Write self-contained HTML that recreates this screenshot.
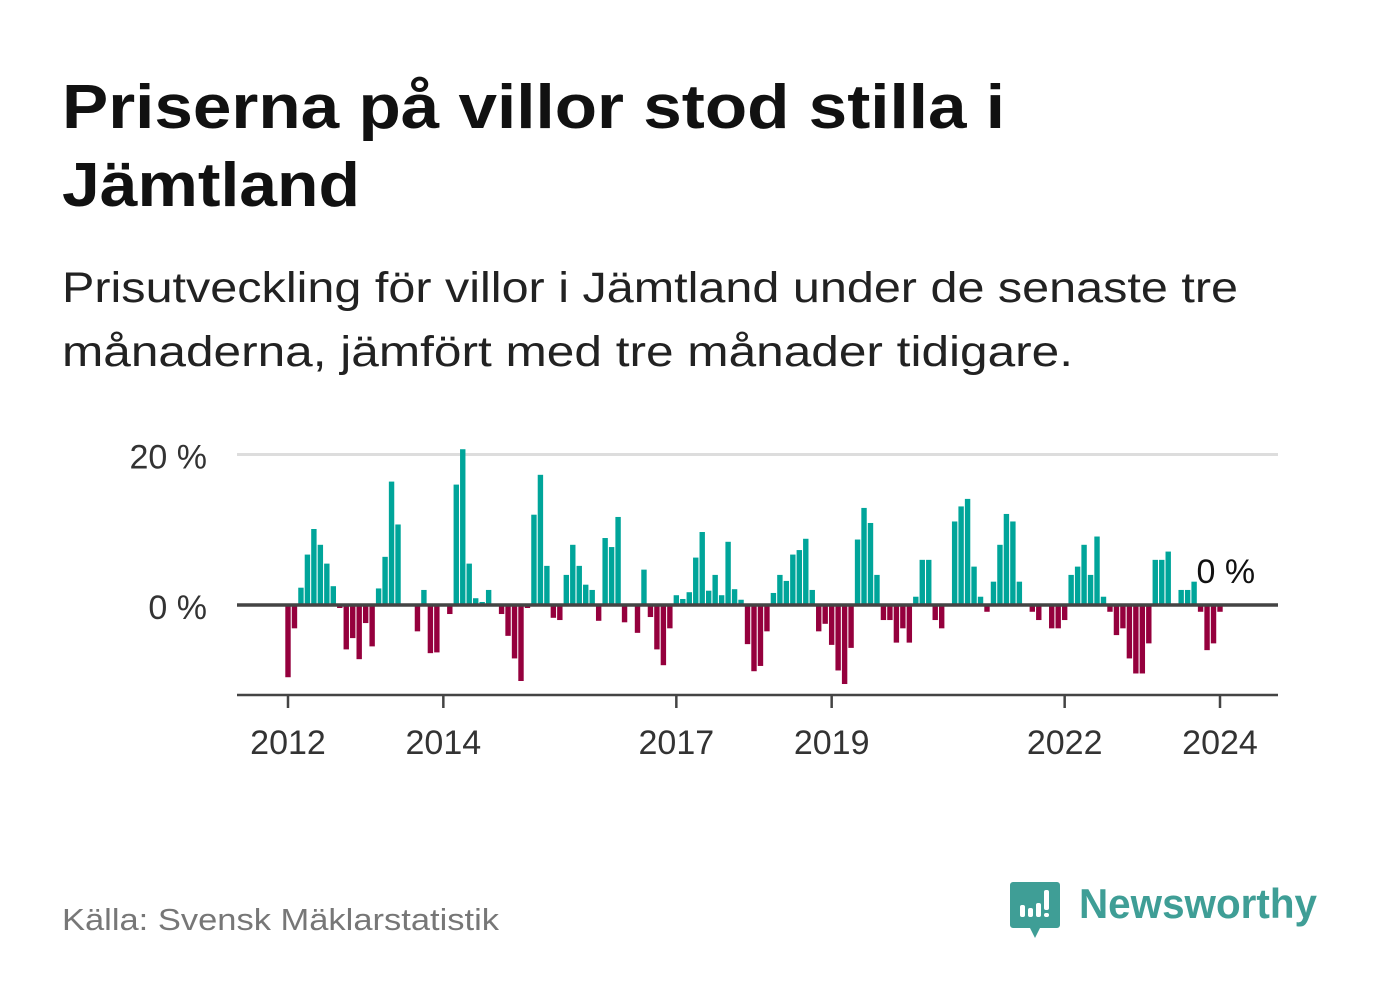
<!DOCTYPE html>
<html><head><meta charset="utf-8"><style>
html,body{margin:0;padding:0;background:#fff;}
svg{display:block;font-family:"Liberation Sans",sans-serif;}
</style></head><body>
<svg id="c" width="1382" height="999" viewBox="0 0 1382 999">
<text x="62" y="128" font-size="62" font-weight="bold" fill="#111" textLength="943" lengthAdjust="spacingAndGlyphs">Priserna på villor stod stilla i</text>
<text x="62" y="206" font-size="62" font-weight="bold" fill="#111" textLength="298" lengthAdjust="spacingAndGlyphs">Jämtland</text>
<text x="62" y="302" font-size="43" fill="#222" textLength="1176" lengthAdjust="spacingAndGlyphs">Prisutveckling för villor i Jämtland under de senaste tre</text>
<text x="62" y="366" font-size="43" fill="#222" textLength="1011" lengthAdjust="spacingAndGlyphs">månaderna, jämfört med tre månader tidigare.</text>
<g id="plot"></g>
<text x="62" y="930" font-size="31" fill="#777" textLength="437" lengthAdjust="spacingAndGlyphs">Källa: Svensk Mäklarstatistik</text>
<g>
<path d="M1013 882 h44 a3 3 0 0 1 3 3 v40 a3 3 0 0 1 -3 3 h-17 l-5 10 l-5 -10 h-17 a3 3 0 0 1 -3 -3 v-40 a3 3 0 0 1 3 -3z" fill="#3f9e96"/>
<rect x="1020" y="905" width="5" height="12" rx="2" fill="#fff"/>
<rect x="1028" y="908" width="5" height="9" rx="2" fill="#fff"/>
<rect x="1036" y="903" width="5" height="14" rx="2" fill="#fff"/>
<rect x="1044" y="890" width="5" height="20" rx="2" fill="#fff"/>
<rect x="1044" y="913" width="5" height="4" rx="2" fill="#fff"/>
<text x="1079" y="918" font-size="42" font-weight="bold" fill="#3f9e96" textLength="238" lengthAdjust="spacingAndGlyphs">Newsworthy</text>
</g>
</svg>
<script>
const values = [-9.6,-3.1,2.3,6.7,10.1,8,5.5,2.5,-0.4,-5.9,-4.4,-7.2,-2.4,-5.5,2.2,6.4,16.4,10.7,0,0,-3.5,2,-6.4,-6.3,0,-1.2,16,20.7,5.5,0.9,0.4,2,0,-1.2,-4.1,-7.1,-10.1,-0.4,12,17.3,5.2,-1.7,-2,4,8,5.2,2.7,2,-2.1,8.9,7.7,11.7,-2.3,0,-3.7,4.7,-1.6,-5.9,-8,-3.1,1.3,0.8,1.7,6.3,9.7,1.9,4,1.3,8.4,2.1,0.7,-5.2,-8.8,-8.1,-3.5,1.6,4,3.2,6.7,7.3,8.8,2,-3.5,-2.5,-5.3,-8.7,-10.5,-5.7,8.7,12.9,10.9,4,-2,-2,-5,-3.1,-5,1.1,6,6,-2,-3.1,0,11.1,13.1,14.1,5.1,1.1,-0.9,3.1,8,12.1,11.1,3.1,0,-0.9,-2,0,-3.1,-3.1,-2,4,5.1,8,4,9.1,1.1,-0.9,-4,-3.1,-7.1,-9.1,-9.1,-5.1,6,6,7.1,0,2,2,3.1,-0.9,-6,-5.1,-0.9,0];
const yTicks = [0, 20];
const yTickLabels = ["0 %", "20 %"];
const xYears = [2012, 2014, 2017, 2019, 2022, 2024];
const startYear = 2012;
const lastLabel = "0 %";

const NS = "http://www.w3.org/2000/svg";
const g = document.getElementById("plot");
const x0 = 288, pxPerMonth = (1220 - 288) / 144;
const y0 = 605, pxPerPct = (605 - 454.5) / 20;
const xScale = i => x0 + pxPerMonth * i;
const xYear = yr => xScale((yr - startYear) * 12);
const yScale = v => y0 - v * pxPerPct;
function mk(tag, attrs) { const e = document.createElementNS(NS, tag); for (const k in attrs) e.setAttribute(k, attrs[k]); g.appendChild(e); return e; }

yTicks.forEach((t, k) => {
  if (t !== 0) {
    const gl = mk("line", {x1: 237, x2: 1278, y1: yScale(t), y2: yScale(t), stroke: "#ddd", "stroke-width": 3});
    
    
  }
  const tl = mk("text", {x: 207, y: yScale(t) + 14, "font-size": 34, fill: "#333", "text-anchor": "end"});
  tl.textContent = yTickLabels[k];
  
  
});

values.forEach((v, i) => {
  if (v === 0) return;
  const y = v > 0 ? yScale(v) : y0;
  const r = mk("rect", {x: xScale(i) - 2.7, y: y, width: 5.4, height: Math.abs(v) * pxPerPct, fill: v > 0 ? "#00a59a" : "#95003d"});
  
  
});

const zl = mk("line", {x1: 237, x2: 1278, y1: y0, y2: y0, stroke: "#444", "stroke-width": 3.5});



const ax = mk("line", {x1: 237, x2: 1278, y1: 695, y2: 695, stroke: "#444", "stroke-width": 2.5});



xYears.forEach(yr => {
  const x = xYear(yr);
  const tk = mk("line", {x1: x, x2: x, y1: 695, y2: 708, stroke: "#444", "stroke-width": 2.5});
  
  
  const lb = mk("text", {x: x, y: 754, "font-size": 34, fill: "#333", "text-anchor": "middle"});
  lb.textContent = yr;
  
  
});

const an = mk("text", {x: xScale(values.length - 1) - 30, y: yScale(values[values.length - 1]) - 22, "font-size": 34, fill: "#111"});
an.textContent = lastLabel;


</script>
</body></html>
